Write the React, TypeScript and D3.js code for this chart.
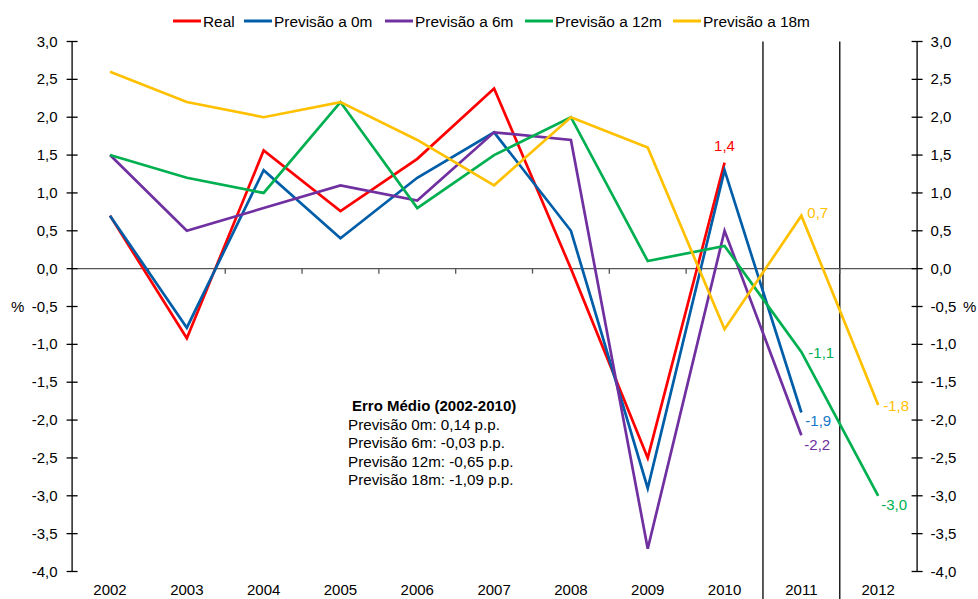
import { useEffect } from 'react'
import * as d3 from 'd3'

const YEARS = ['2002', '2003', '2004', '2005', '2006', '2007', '2008', '2009', '2010', '2011', '2012']
const REAL = [0.7, -0.92, 1.56, 0.76, 1.45, 2.38, 0.0, -2.5, 1.4, null, null]
const PREV_0M = [0.7, -0.78, 1.3, 0.4, 1.2, 1.8, 0.5, -2.9, 1.3, -1.9, null]
const PREV_6M = [1.5, 0.5, 0.8, 1.1, 0.9, 1.8, 1.7, -3.7, 0.5, -2.2, null]
const PREV_12M = [1.5, 1.2, 1.0, 2.2, 0.8, 1.5, 2.0, 0.1, 0.3, -1.1, -3.0]
const PREV_18M = [2.6, 2.2, 2.0, 2.2, 1.7, 1.1, 2.0, 1.6, -0.8, 0.7, -1.8]
const Y_TICKS = [3, 2.5, 2, 1.5, 1, 0.5, 0, -0.5, -1, -1.5, -2, -2.5, -3, -3.5, -4]
const BOX_TITLE = 'Erro Médio (2002-2010)'
const BOX_LINES = [
  'Previsão 0m: 0,14 p.p.',
  'Previsão 6m: -0,03 p.p.',
  'Previsão 12m: -0,65 p.p.',
  'Previsão 18m: -1,09 p.p.',
]

const SERIES = [
  { name: 'Real', values: REAL, color: '#FF0000', label: '#FF0000' },
  { name: 'Previsão a 0m', values: PREV_0M, color: '#005DA8', label: '#1477C9' },
  { name: 'Previsão a 6m', values: PREV_6M, color: '#7030A0', label: '#7030A0' },
  { name: 'Previsão a 12m', values: PREV_12M, color: '#00B050', label: '#00B050' },
  { name: 'Previsão a 18m', values: PREV_18M, color: '#FFC000', label: '#FFC000' },
]

// value labels: series index, year index
const VALUE_LABELS = [
  { s: 0, i: 8, dx: 0, dy: -12, anchor: 'middle' },
  { s: 4, i: 9, dx: 6, dy: 2, anchor: 'start' },
  { s: 3, i: 9, dx: 7, dy: 6, anchor: 'start' },
  { s: 1, i: 9, dx: 4, dy: 13, anchor: 'start' },
  { s: 2, i: 9, dx: 3, dy: 15, anchor: 'start' },
  { s: 4, i: 10, dx: 5, dy: 6, anchor: 'start' },
  { s: 3, i: 10, dx: 3, dy: 14, anchor: 'start' },
]

const WIDTH = 978
const HEIGHT = 599
const LEFT = 71.6
const RIGHT = 916.6
const TOP = 41.5
const BOTTOM = 571.5
const FONT = '"Liberation Sans", Arial, sans-serif'

const locale = d3.formatLocale({ decimal: ',', thousands: '.', grouping: [3], currency: ['', ''], minus: '-' })
const fmt = locale.format('.1f')

export default function App() {
  useEffect(() => {
    document.body.style.margin = '0'
  }, [])

  const x = d3.scaleBand<string>().domain(YEARS).range([LEFT, RIGHT])
  const y = d3.scaleLinear().domain([-4, 3]).range([BOTTOM, TOP])
  const cx = (i: number) => (x(YEARS[i]) as number) + x.bandwidth() / 2

  const line = d3
    .line<number | null>()
    .defined((v) => v != null)
    .x((_, i) => cx(i))
    .y((v) => y(v as number))

  const legendX = [173, 244, 385, 525, 673]
  const boundaries = YEARS.slice(1).map((yr) => x(yr) as number)

  return (
    <svg width={WIDTH} height={HEIGHT} style={{ display: 'block', fontFamily: FONT }}>
      <rect width={WIDTH} height={HEIGHT} fill="#fff" />

      {/* legend */}
      {SERIES.map((s, k) => (
        <g key={s.name} transform={`translate(${legendX[k]},21)`}>
          <line x1={0} x2={28} stroke={s.color} strokeWidth={3} />
          <text x={30} y={5.5} fontSize={15.4} fill="#000">
            {s.name}
          </text>
        </g>
      ))}

      {/* separators for 2011 and 2012 */}
      {[boundaries[8], boundaries[9]].map((bx, k) => (
        <line key={k} x1={bx} x2={bx} y1={TOP} y2={HEIGHT} stroke="#000" strokeWidth={1.3} />
      ))}

      {/* zero line with ticks */}
      <line x1={LEFT} x2={RIGHT} y1={y(0)} y2={y(0)} stroke="#555" strokeWidth={1.3} />
      {boundaries.map((bx, k) => (
        <line key={k} x1={bx} x2={bx} y1={y(0)} y2={y(0) + 5} stroke="#555" strokeWidth={1.3} />
      ))}

      {/* y axes */}
      {[LEFT, RIGHT].map((ax, side) => (
        <g key={side}>
          <line x1={ax + 0.5} x2={ax + 0.5} y1={TOP} y2={BOTTOM} stroke="#000" strokeWidth={1.3} />
          {Y_TICKS.map((t) => (
            <g key={t}>
              <line x1={ax - 5} x2={ax + 6} y1={y(t)} y2={y(t)} stroke="#000" strokeWidth={1.3} />
              <text
                x={side === 0 ? ax - 14 : ax + 14}
                y={y(t) + 5}
                fontSize={15}
                textAnchor={side === 0 ? 'end' : 'start'}
                fill="#000"
              >
                {fmt(t)}
              </text>
            </g>
          ))}
        </g>
      ))}
      <text x={11} y={y(-0.5) + 5} fontSize={15} fill="#000">
        %
      </text>
      <text x={963} y={y(-0.5) + 5} fontSize={15} fill="#000">
        %
      </text>

      {/* x labels */}
      {YEARS.map((yr, i) => (
        <text key={yr} x={cx(i)} y={595} fontSize={15} textAnchor="middle" fill="#000">
          {yr}
        </text>
      ))}

      {/* series */}
      {SERIES.map((s) => (
        <path
          key={s.name}
          d={line(s.values) as string}
          fill="none"
          stroke={s.color}
          strokeWidth={2.7}
          strokeLinejoin="miter"
        />
      ))}

      {/* value labels */}
      {VALUE_LABELS.map((l, k) => {
        const s = SERIES[l.s]
        const v = s.values[l.i] as number
        return (
          <text
            key={k}
            x={cx(l.i) + l.dx}
            y={y(v) + l.dy}
            fontSize={15}
            textAnchor={l.anchor}
            fill={s.label}
          >
            {fmt(v)}
          </text>
        )
      })}

      {/* text box */}
      <text x={352} y={411} fontSize={15} fontWeight="bold" fill="#000">
        {BOX_TITLE}
      </text>
      {BOX_LINES.map((t, k) => (
        <text key={t} x={348} y={429.5 + k * 18.5} fontSize={15.2} fill="#000">
          {t}
        </text>
      ))}
    </svg>
  )
}
